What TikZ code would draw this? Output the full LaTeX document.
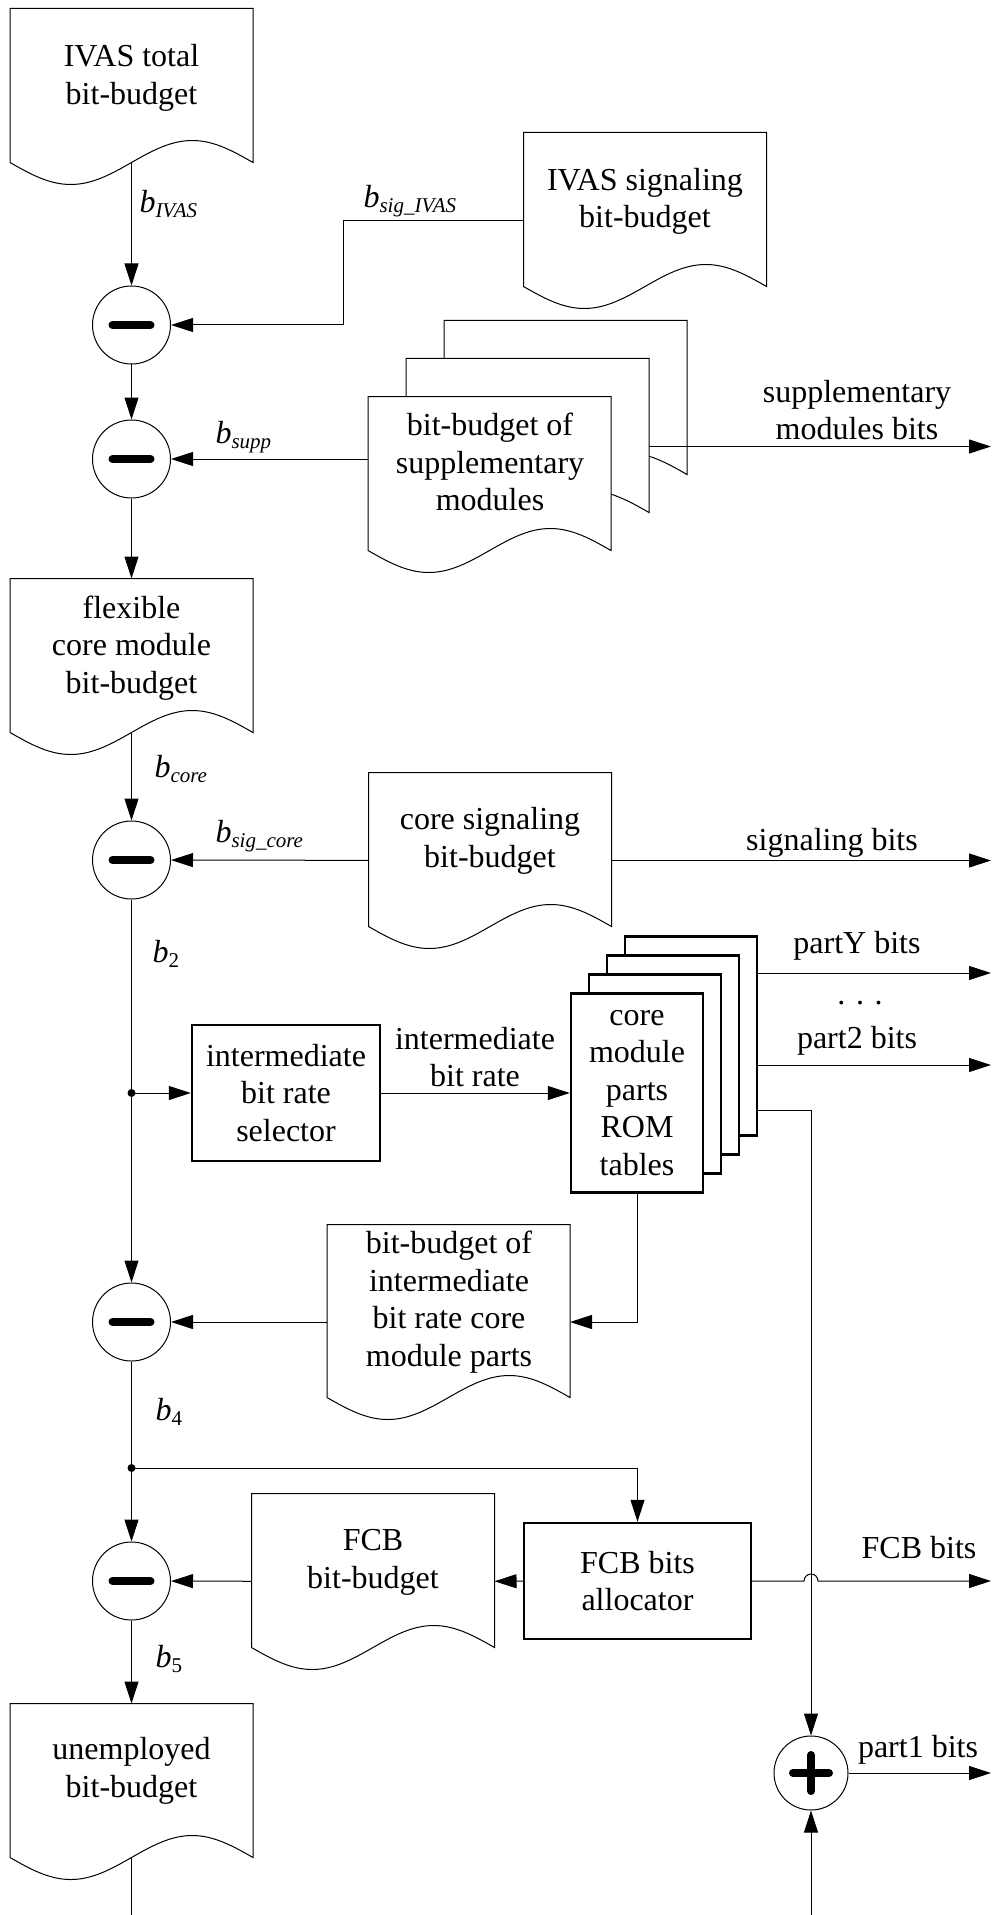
\documentclass[tikz,border=0pt]{standalone}
\usepackage{fontspec}
\setmainfont{Liberation Serif}
\usetikzlibrary{arrows.meta,calc}
\tikzset{
  arr/.style={-{Triangle[length=11pt,width=7pt]}},
  doc/.style={minimum width=121pt, minimum height=87.5pt, inner sep=0pt},
  doctext/.style={align=center, inner sep=0pt},
  blk/.style={draw, fill=white, line width=1.2pt, align=center, inner sep=0pt},
  sumnode/.style={draw, circle, fill=white, minimum size=39pt, inner sep=0pt},
  lbl/.style={inner sep=0pt}
}
\newcommand{\docshape}[1]{%
  \draw[fill=white] ($(#1.south west)+(0,-22)$) -- (#1.north west) -- (#1.north east) -- ($(#1.south east)+(0,-22)$)
    sin ($(#1.south west)!0.75!(#1.south east)+(0,-44)$) cos ($(#1.south)+(0,-22)$)
    sin ($(#1.south west)!0.25!(#1.south east)$) cos ($(#1.south west)+(0,-22)$) -- cycle;}
\newcommand{\minusbar}[1]{\draw[line width=4pt, line cap=round] ($(#1)+(-19,0)$) -- ($(#1)+(19,0)$);}
\newcommand{\plusbar}[1]{\draw[line width=4pt, line cap=round] ($(#1)+(-18,0)$) -- ($(#1)+(18,0)$) ($(#1)+(0,-18)$) -- ($(#1)+(0,18)$);}
\newcommand{\bvar}[1]{\textit{b}\raisebox{-2.5pt}{\fontsize{10.5}{12}\selectfont\textit{#1}}}
\begin{document}
\begin{tikzpicture}[x=0.5pt, y=-0.5pt, line width=0.5pt, font=\fontsize{16}{18.8}\selectfont]
          \useasboundingbox (0,0) rectangle (991,1915);
          \coordinate (rim) at (991,0);
          \coordinate (kink) at (343,325);
          \coordinate (j1) at (131.5,1093);
          \coordinate (j2) at (131.5,1468);
          \coordinate (pY) at (991,973);
          \coordinate (p2) at (991,1065);
          \coordinate (p1) at (811,1110);
          \coordinate (botL) at (131.5,1915);
          \coordinate (botR) at (811,1915);
          \node[doc] (ivas) at (131.5,96.5) {};
          \node[doc] (ivassig) at (645,220.5) {};
          \node[doc] (suppB) at (565.5,408.5) {};
          \node[doc] (suppM) at (527.5,446.5) {};
          \node[doc] (suppF) at (489.5,484.5) {};
          \node[doc] (flex) at (131.5,666.5) {};
          \node[doc] (coresig) at (490,860.5) {};
          \node[doc, minimum height=97pt] (intbud) at (448.5,1322) {};
          \node[doc] (fcbbud) at (373,1581.5) {};
          \node[doc] (unemp) at (131.5,1791.5) {};
          \docshape{ivas} \docshape{ivassig}
          \docshape{suppB} \docshape{suppM} \docshape{suppF}
          \docshape{flex} \docshape{coresig} \docshape{intbud}
          \docshape{fcbbud} \docshape{unemp}
          \node[doctext] (ivas-t) at (131.5,78) {IVAS total\\bit-budget};
          \node[doctext] (ivassig-t) at (645,201.5) {IVAS signaling\\bit-budget};
          \node[doctext] (suppF-t) at (490,462) {bit-budget of\\supplementary\\modules};
          \node[doctext] (flex-t) at (131.5,648) {flexible\\core module\\bit-budget};
          \node[doctext] (coresig-t) at (490,841) {core signaling\\bit-budget};
          \node[doctext] (intbud-t) at (449,1302) {bit-budget of\\intermediate\\bit rate core\\module parts};
          \node[doctext] (fcbbud-t) at (373,1562.5) {FCB\\bit-budget};
          \node[doctext] (unemp-t) at (131.5,1771) {unemployed\\bit-budget};
          \node[sumnode] (m1) at (131.5,325) {}; \minusbar{m1}
          \node[sumnode] (m2) at (131.5,459) {}; \minusbar{m2}
          \node[sumnode] (m3) at (131.5,860) {}; \minusbar{m3}
          \node[sumnode] (m4) at (131.5,1322) {}; \minusbar{m4}
          \node[sumnode] (m5) at (131.5,1581) {}; \minusbar{m5}
          \node[sumnode, minimum size=37pt] (plus) at (811,1773) {}; \plusbar{plus}
          \node[blk, minimum width=94pt, minimum height=68pt] (sel) at (286,1093) {intermediate\\bit rate\\selector};
          \node[blk, minimum width=66pt, minimum height=99.5pt] (romD) at (691,1036) {};
          \node[blk, minimum width=66pt, minimum height=99.5pt] (romC) at (673,1055) {};
          \node[blk, minimum width=66pt, minimum height=99.5pt] (romB) at (655,1074) {};
          \node[blk, minimum width=66pt, minimum height=99.5pt] (romF) at (637,1093) {core\\module\\parts\\ROM\\tables};
          \node[blk, minimum width=113.5pt, minimum height=58pt] (alloc) at (637.5,1581) {FCB bits\\allocator};
          \draw[arr] ([yshift=11pt]ivas.south) -- (m1);
          \draw[arr] (ivassig) -| (kink) -- (m1);
          \draw[arr] (m1) -- (m2);
          \draw[arr] (suppF.west |- m2) -- (m2);
          \draw[arr] (suppM.east) -- (suppM.east -| rim);
          \draw[arr] (m2) -- (flex);
          \draw[arr] ([yshift=11pt]flex.south) -- (m3);
          \draw[arr] (coresig) -- (m3);
          \draw[arr] (coresig) -- (coresig -| rim);
          \draw[arr] (m3) -- (m4);
          \fill (j1) circle (2pt);
          \draw[arr] (j1) -- (sel);
          \draw[arr] (sel) -- (romF);
          \draw[arr] (romD.east |- pY) -- (pY);
          \draw[arr] (romD.east |- p2) -- (p2);
          \draw (romD.east |- p1) -- (p1);
          \draw[arr] (p1) -- (plus);
          \draw[arr] (romF) |- (intbud);
          \draw[arr] (intbud) -- (m4);
          \draw[arr] (m4) -- (m5);
          \fill (j2) circle (2pt);
          \draw[arr] (j2) -| (alloc);
          \draw[arr] (alloc) -- (fcbbud);
          \draw[arr] (fcbbud) -- (m5);
          \draw[arr] (alloc) -- ($(alloc -| p1)+(-7,0)$) arc[start angle=180, end angle=0, radius=3.5pt] -- (alloc -| rim);
          \draw[arr] (m5) -- (unemp);
          \draw ([yshift=11pt]unemp.south) -- (botL);
          \draw[arr] (botR) -- (plus);
          \draw[arr] (plus) -- (plus -| rim);
          \node[lbl, anchor=base west] (bivas) at (139,213) {\bvar{IVAS}};
          \node[lbl, anchor=base west] (bsigivas) at (363,208) {\bvar{sig\_IVAS}};
          \node[lbl, anchor=base west] (bsupp) at (215,443) {\bvar{supp}};
          \node[lbl, anchor=base west] (bcore) at (154,777) {\bvar{core}};
          \node[lbl, anchor=base west] (bsigcore) at (215,842) {\bvar{sig\_core}};
          \node[lbl, anchor=base west] (b2) at (152,962) {\bvar{\upshape 2}};
          \node[lbl, anchor=base west] (b4) at (155,1420) {\bvar{\upshape 4}};
          \node[lbl, anchor=base west] (b5) at (155,1667) {\bvar{\upshape 5}};
          \node[lbl, align=center] (suppbits) at (857,410) {supplementary\\modules bits};
          \node[lbl, anchor=base] (sigbits) at (832,850) {signaling bits};
          \node[lbl, anchor=base] (partYbits) at (857,953) {partY bits};
          \node[lbl, anchor=base] (pdots) at (860,1004) {. . .};
          \node[lbl, anchor=base] (part2bits) at (857,1048) {part2 bits};
          \node[lbl, align=center] (ratelbl) at (475,1057) {intermediate\\bit rate};
          \node[lbl, anchor=base] (fcbbits) at (919,1558) {FCB bits};
          \node[lbl, anchor=base] (part1bits) at (918,1757) {part1 bits};
        \end{tikzpicture}
\end{document}
